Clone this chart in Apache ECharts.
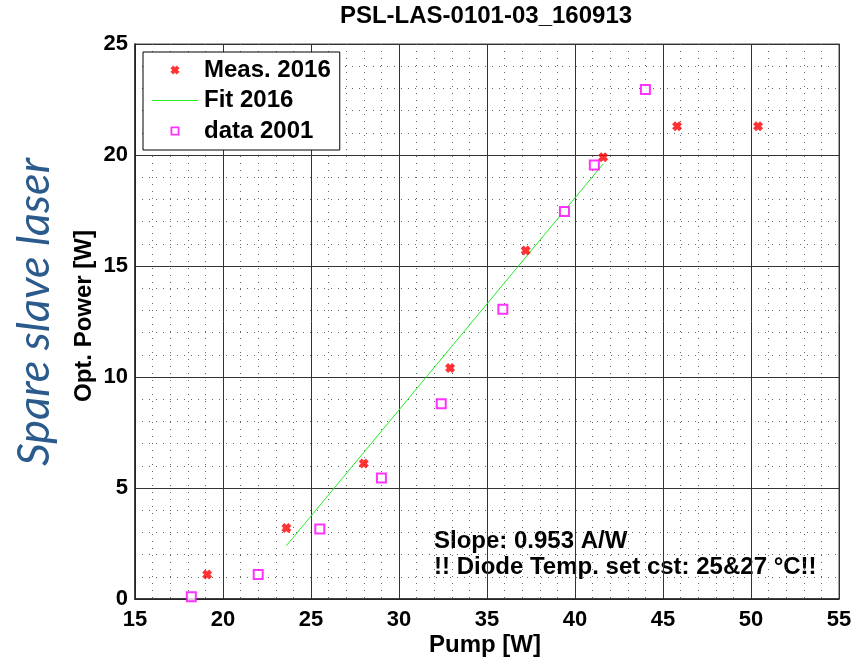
<!DOCTYPE html>
<html><head><meta charset="utf-8">
<script src="https://cdn.jsdelivr.net/npm/echarts@6/dist/echarts.min.js"></script>
<style>html,body{margin:0;padding:0;background:#fff}#c{width:856px;height:662px}</style>
</head><body><div id="c"></div>
<script>
const measX = [19.1, 23.6, 28.0, 32.9, 37.2, 41.6, 45.8, 50.4];
const measY = [1.1, 3.2, 6.1, 10.4, 15.7, 19.9, 21.3, 21.3];
const oldX = [18.2, 22.0, 25.5, 29.0, 32.4, 35.9, 39.4, 41.1, 44.0];
const oldY = [0.1, 1.1, 3.15, 5.45, 8.8, 13.05, 17.45, 19.55, 22.95];
const fitX = [23.6, 41.6];
const fitY = [2.4, 19.6];
const seriesNames = ['Meas. 2016', 'Fit 2016', 'data 2001'];
const titleText = 'PSL-LAS-0101-03_160913';
const xName = 'Pump [W]';
const yName = 'Opt. Power [W]';
const sideText = 'Spare slave laser';
const note1 = 'Slope: 0.953 A/W';
const note2 = '!! Diode Temp. set cst: 25&27 °C!!';

const zip = (a, b) => a.map((v, i) => [v, b[i]]);
const FONT = '"Liberation Sans", Arial, sans-serif';
const crossPath = 'path://M0,3L3,0L5,2L7,0L10,3L8,5L10,7L7,10L5,8L3,10L0,7L2,5Z';
const squarePath = 'path://M0,0H10V10H0Z M2,2V8H8V2Z';
const linePath = 'path://M0,0H46V1H0Z';

const chart = echarts.init(document.getElementById('c'), null, {renderer: 'canvas'});
const axisCommon = {
  axisLine: {show: true, lineStyle: {color: '#222', width: 1.5}},
  axisTick: {show: false},
  axisLabel: {color: '#000', fontFamily: FONT, fontWeight: 'bold', fontSize: 22},
  splitLine: {show: true, lineStyle: {color: '#333', width: 1}},
  minorSplitLine: {show: true, lineStyle: {color: '#666', width: 1, type: [1, 6]}},
  minorTick: {show: false, splitNumber: 5}
};
chart.setOption({
  animation: false,
  backgroundColor: '#fff',
  grid: {left: 135, right: 17, top: 44, bottom: 63, show: true, borderColor: '#888', borderWidth: 1.5, backgroundColor: 'transparent'},
  xAxis: Object.assign({type: 'value', min: 15, max: 55, interval: 5}, axisCommon,
    {axisLabel: Object.assign({}, axisCommon.axisLabel, {margin: 10})}),
  yAxis: Object.assign({type: 'value', min: 0, max: 25, interval: 5}, axisCommon,
    {axisLabel: Object.assign({}, axisCommon.axisLabel, {margin: 7})}),
  legend: {
    left: 143, top: 52, orient: 'vertical',
    backgroundColor: '#fff', borderColor: '#000', borderWidth: 1,
    padding: [6, 9, 7, 9],
    itemWidth: 46, itemHeight: 9, itemGap: 6.5,
    textStyle: {color: '#000', fontFamily: FONT, fontWeight: 'bold', fontSize: 24, lineHeight: 24, padding: [0, 0, 0, 1]},
    data: [
      {name: seriesNames[0], icon: crossPath, itemStyle: {color: '#ff0000'}},
      {name: seriesNames[1], icon: linePath, itemStyle: {color: '#22ee22'}},
      {name: seriesNames[2], icon: squarePath, itemStyle: {color: '#ff00ff', borderWidth: 0}}
    ]
  },
  graphic: [
    {type: 'text', x: 486, y: 16, style: {text: titleText, fill: '#000', font: 'bold 24px ' + FONT, textAlign: 'center', textVerticalAlign: 'middle'}},
    {type: 'text', x: 485, y: 645, style: {text: xName, fill: '#000', font: 'bold 24px ' + FONT, textAlign: 'center', textVerticalAlign: 'middle'}},
    {type: 'text', x: 84, y: 316, rotation: Math.PI / 2, style: {text: yName, fill: '#000', font: 'bold 24px ' + FONT, textAlign: 'center', textVerticalAlign: 'middle'}},
    {type: 'text', x: 34, y: 312, rotation: Math.PI / 2, style: {text: sideText, fill: '#2B5B8C', font: 'italic 400 45px Lato, "Open Sans", sans-serif', textAlign: 'center', textVerticalAlign: 'middle'}},
    {type: 'text', x: 434, y: 541, style: {text: note1, fill: '#000', font: 'bold 24px ' + FONT, textAlign: 'left', textVerticalAlign: 'middle'}},
    {type: 'text', x: 434, y: 567, style: {text: note2, fill: '#000', font: 'bold 24px ' + FONT, textAlign: 'left', textVerticalAlign: 'middle'}}
  ],
  series: [
    {name: seriesNames[0], type: 'scatter', data: zip(measX, measY), symbol: crossPath, symbolSize: 10,
      itemStyle: {color: '#ff0000'}, z: 4},
    {name: seriesNames[1], type: 'line', data: zip(fitX, fitY), symbol: 'none', showSymbol: false,
      lineStyle: {color: '#22ee22', width: 1}, itemStyle: {color: '#22ee22'}, z: 3},
    {name: seriesNames[2], type: 'scatter', data: zip(oldX, oldY), symbol: 'emptyRect', symbolSize: 9,
      itemStyle: {color: '#ff00ff', borderWidth: 2}, z: 4}
  ]
});
</script></body></html>
